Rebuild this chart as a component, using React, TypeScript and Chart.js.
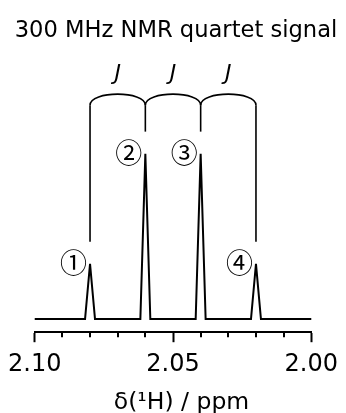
import { useEffect, useRef } from "react";
import { Chart, registerables } from "chart.js";

Chart.register(...registerables);

// ---- Data ----
const TITLE = "300 MHz NMR quartet signal";
const X_TITLE = "δ(¹H) / ppm";

// spectrum trace (chemical shift in ppm, relative intensity)
const SPECTRUM_PPM = [
  2.1, 2.0818, 2.08, 2.0782, 2.0618, 2.06, 2.0582, 2.0418, 2.04, 2.0382, 2.0218, 2.02, 2.0182, 2.0,
];
const SPECTRUM_INTENSITY = [0, 0, 1, 0, 0, 3, 0, 0, 3, 0, 0, 1, 0, 0];

// quartet lines
const PEAK_PPM = [2.08, 2.06, 2.04, 2.02];
const PEAK_HEIGHT = [1, 3, 3, 1];
const PEAK_LABELS = ["①", "②", "③", "④"];
const COUPLING_LABELS = ["J", "J", "J"];

// axis
const X_MIN = 2.0;
const X_MAX = 2.1;
const X_STEP = 0.01;
const X_MAJOR_EVERY = 5; // label every 0.05 ppm
const Y_MIN = -0.24;
const Y_MAX = 4.7;

// bracket levels (intensity units)
const STEM_GAP = 0.4;
const BRACKET_BASE = 3.88;
const BRACKET_TOP = 4.08;
const J_LEVEL = 4.33;

const FONT = "DejaVu Sans";
const CIRCLE_FONT = "Noto Sans CJK JP";

const isMajor = (v: number) => Math.round(v * 100) % X_MAJOR_EVERY === 0;

const annotations = {
  id: "nmrAnnotations",
  afterDraw(chart: any) {
    const { ctx, scales, chartArea } = chart;
    const xs = scales.x;
    const ys = scales.y;
    ctx.save();
    ctx.strokeStyle = "#000";
    ctx.fillStyle = "#000";

    // minor ticks
    ctx.lineWidth = 2;
    for (let i = 0; i <= Math.round((X_MAX - X_MIN) / X_STEP); i++) {
      const v = X_MIN + i * X_STEP;
      if (isMajor(v)) continue;
      const x = Math.round(xs.getPixelForValue(v));
      ctx.beginPath();
      ctx.moveTo(x, chartArea.bottom);
      ctx.lineTo(x, chartArea.bottom + 5);
      ctx.stroke();
    }

    ctx.lineWidth = 1.6;
    // stems
    const yb = ys.getPixelForValue(BRACKET_BASE);
    const yt = ys.getPixelForValue(BRACKET_TOP);
    PEAK_PPM.forEach((p, i) => {
      const x = xs.getPixelForValue(p);
      ctx.beginPath();
      ctx.moveTo(x, ys.getPixelForValue(PEAK_HEIGHT[i] + STEM_GAP));
      ctx.lineTo(x, yb);
      ctx.stroke();
    });

    // arcs + J labels
    const ctrl = yb - (yb - yt) / 0.75;
    ctx.font = `italic 22px "${FONT}"`;
    ctx.textAlign = "center";
    ctx.textBaseline = "alphabetic";
    for (let i = 0; i < PEAK_PPM.length - 1; i++) {
      const x1 = xs.getPixelForValue(PEAK_PPM[i]);
      const x2 = xs.getPixelForValue(PEAK_PPM[i + 1]);
      ctx.beginPath();
      ctx.moveTo(x1, yb);
      ctx.bezierCurveTo(x1, ctrl, x2, ctrl, x2, yb);
      ctx.stroke();
      ctx.fillText(COUPLING_LABELS[i], (x1 + x2) / 2, ys.getPixelForValue(J_LEVEL));
    }

    // peak labels
    ctx.font = `27px "${CIRCLE_FONT}"`;
    ctx.textAlign = "center";
    ctx.textBaseline = "middle";
    PEAK_PPM.forEach((p, i) => {
      const x = xs.getPixelForValue(p);
      const y = ys.getPixelForValue(PEAK_HEIGHT[i]);
      ctx.fillText(PEAK_LABELS[i], x - 16.5, y - 1);
    });

    // title
    ctx.font = `22.6px "${FONT}"`;
    ctx.textAlign = "center";
    ctx.textBaseline = "alphabetic";
    ctx.fillText(TITLE, 176, 36.5);

    // x-axis title
    ctx.font = `23.5px "${FONT}"`;
    ctx.fillText(X_TITLE, 181.5, 408.5);
    ctx.restore();
  },
};

export default function App() {
  const ref = useRef<HTMLCanvasElement | null>(null);
  useEffect(() => {
    document.body.style.margin = "0";
    if (!ref.current) return;
    Chart.defaults.font.family = FONT;
    const chart = new Chart(ref.current, {
      type: "scatter",
      data: {
        datasets: [
          {
            data: SPECTRUM_PPM.map((x, i) => ({ x, y: SPECTRUM_INTENSITY[i] })),
            showLine: true,
            borderColor: "#000",
            borderWidth: 2,
            pointRadius: 0,
            tension: 0,
            clip: false as any,
          },
        ],
      },
      options: {
        animation: false,
        responsive: false,
        devicePixelRatio: 1,
        layout: { padding: { left: 33, right: 30, top: 60, bottom: 26 } },
        plugins: {
          legend: { display: false },
          tooltip: { enabled: false },
          title: { display: false },
        },
        scales: {
          x: {
            type: "linear",
            min: X_MIN,
            max: X_MAX,
            reverse: true,
            ticks: {
              stepSize: X_STEP,
              autoSkip: false,
              maxRotation: 0,
              minRotation: 0,
              padding: 8,
              color: "#000",
              font: { family: FONT, size: 24 },
              callback: (v: any) => (isMajor(Number(v)) ? Number(v).toFixed(2) : ""),
            },
            grid: {
              drawOnChartArea: false,
              drawTicks: true,
              tickLength: 10,
              tickWidth: 2,
              tickColor: (c: any) => (c.tick && isMajor(c.tick.value) ? "#000" : "rgba(0,0,0,0)"),
            },
            border: { display: true, color: "#000", width: 2 },
          },
          y: {
            display: false,
            min: Y_MIN,
            max: Y_MAX,
          },
        },
      },
      plugins: [annotations],
    });
    return () => chart.destroy();
  }, []);
  return (
    <div style={{ position: "absolute", left: 0, top: 0, width: 346, height: 413, background: "#fff" }}>
      <canvas ref={ref} width={346} height={413} />
    </div>
  );
}
